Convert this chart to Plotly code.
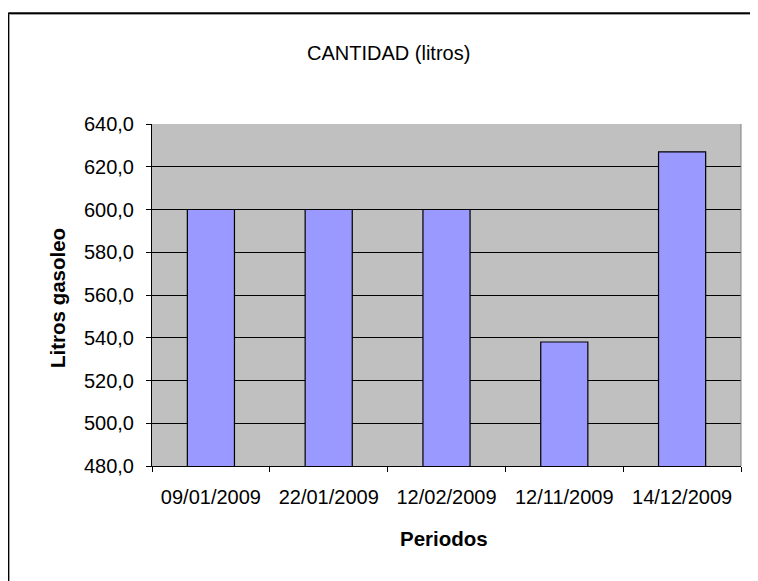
import plotly.graph_objects as go

periodos = ["09/01/2009", "22/01/2009", "12/02/2009", "12/11/2009", "14/12/2009"]
litros = [600.0, 600.0, 600.0, 538.0, 627.0]
y_ticks = [480, 500, 520, 540, 560, 580, 600, 620, 640]

OFF = 8  # page body margin
W, H = 758 - OFF, 581 - OFF
L, R, T, B = 152 - OFF, 741 - OFF, 124 - OFF, 466 - OFF

def px(x):
    return (x - OFF - L) / (R - L)

def py(y):
    return (B - (y - OFF)) / (B - T)

FONT = "Liberation Sans, Arial, sans-serif"

fig = go.Figure(go.Bar(
    x=periodos, y=litros,
    marker=dict(color="#9999FF", line=dict(color="#000000", width=1.2)),
))

fig.update_layout(
    width=W, height=H,
    margin=dict(l=L, r=W - R, t=T, b=H - B, pad=0),
    paper_bgcolor="white", plot_bgcolor="#C0C0C0",
    bargap=0.6, showlegend=False,
    separators=",.",
    font=dict(family=FONT, size=20, color="black"),
)
fig.update_xaxes(
    type="category", showline=True, linecolor="black", linewidth=1,
    ticks="outside", tickson="boundaries", ticklen=5, tickcolor="black",
    showgrid=False, ticklabelstandoff=13,
    tickfont=dict(family=FONT, size=20, color="black"),
)
fig.update_yaxes(
    range=[480, 640], tickvals=y_ticks, tickformat=".1f",
    showline=True, linecolor="black", linewidth=1,
    ticks="outside", ticklen=5, tickcolor="black",
    showgrid=True, gridcolor="black", gridwidth=1, zeroline=False,
    ticklabelstandoff=8,
    tickfont=dict(family=FONT, size=20, color="black"),
)

fig.add_annotation(text="CANTIDAD (litros)", x=px(388), y=py(53), xref="paper", yref="paper",
                   showarrow=False, xanchor="center", yanchor="middle",
                   font=dict(family=FONT, size=20, color="black"))
fig.add_annotation(text="<b>Litros gasoleo</b>", x=px(57), y=py(298), xref="paper", yref="paper",
                   showarrow=False, xanchor="center", yanchor="middle", textangle=-90,
                   font=dict(family=FONT, size=20.5, color="black"))
fig.add_annotation(text="<b>Periodos</b>", x=px(444), y=py(538), xref="paper", yref="paper",
                   showarrow=False, xanchor="center", yanchor="middle",
                   font=dict(family=FONT, size=20.5, color="black"))

# plot area right edge
fig.add_shape(type="line", xref="paper", yref="paper", x0=1, x1=1, y0=0, y1=1,
              line=dict(color="#808080", width=1))
# outer chart border (top and left visible)
fig.add_shape(type="line", xref="paper", yref="paper", x0=px(8.25), x1=px(800), y0=py(13.25), y1=py(13.25),
              line=dict(color="black", width=2))
fig.add_shape(type="line", xref="paper", yref="paper", x0=px(9.5), x1=px(800), y0=py(14.5), y1=py(14.5),
              line=dict(color="#A0A0A0", width=1))
fig.add_shape(type="line", xref="paper", yref="paper", x0=px(8.25), x1=px(8.25), y0=py(13.25), y1=py(700),
              line=dict(color="black", width=2))
fig.add_shape(type="line", xref="paper", yref="paper", x0=px(9.5), x1=px(9.5), y0=py(14.5), y1=py(700),
              line=dict(color="#A0A0A0", width=1))

fig.write_html("out.html")
